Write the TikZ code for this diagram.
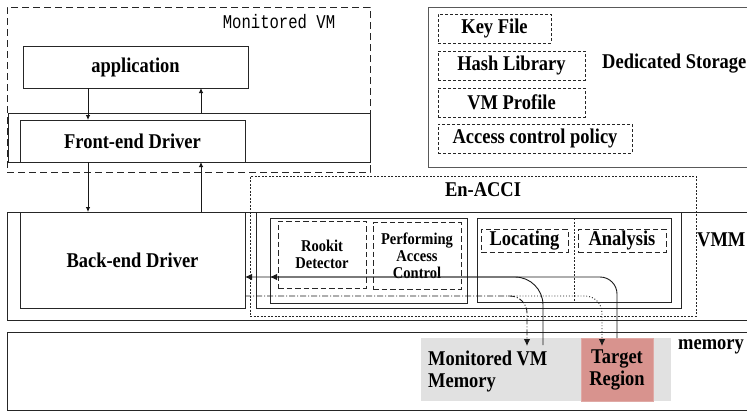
\documentclass[tikz,border=0pt]{standalone}
\usepackage{fontspec}
\setmainfont[FakeStretch=0.88]{Liberation Serif}
\newfontfamily\vmmono[FakeStretch=0.8]{Liberation Mono}
\usetikzlibrary{arrows.meta}
\newcommand{\bigtxt}{\fontsize{21}{22}\selectfont\bfseries}
\newcommand{\smalltxt}{\fontsize{16.5}{17}\selectfont\bfseries}
\definecolor{memgray}{HTML}{E1E1E1}
\definecolor{tgtred}{HTML}{D8938E}
\tikzset{
box/.style={draw=black!85, line width=0.8pt, inner sep=0pt, outer sep=0pt, font=\bigtxt, align=center},
dbox/.style={box, dash pattern=on 3pt off 2pt, line width=0.7pt},
mdbox/.style={box, dash pattern=on 5.5pt off 3pt, line width=0.8pt},
ldbox/.style={box, dash pattern=on 7pt off 4pt, line width=0.9pt},
dotbox/.style={box, dash pattern=on 2pt off 1.5pt, line width=0.6pt},
txt/.style={inner sep=0pt, font=\bigtxt, align=center},
arr/.style={-{Latex[length=5pt,width=4.5pt]}, line width=0.8pt, black!90},
bigarr/.style={-{Latex[length=7pt,width=6.5pt]}, line width=0.9pt, black!90}
}

\begin{document}
\begin{tikzpicture}[x=1pt, y=-1pt]
\useasboundingbox (0,0) rectangle (747,413);
% monitored VM
\node[ldbox, minimum width=363pt, minimum height=165pt] (monvm) at (188.5,89.5) {};
\node[txt, font=\vmmono\fontsize{19.5}{20}\selectfont] (monvmlbl) at (279,22) {Monitored VM};
\node[box, minimum width=225pt, minimum height=42pt] (app) at (135.5,67) {application};
\node[box, minimum width=362pt, minimum height=49pt] (feout) at (189,137.5) {};
\node[box, minimum width=225pt, minimum height=42pt] (fe) at (132.5,141) {Front-end Driver};
% dedicated storage
\node[box, draw=black!65, minimum width=332pt, minimum height=160pt] (ds) at (594,87) {};
\node[dbox, minimum width=113pt, minimum height=29pt] (key) at (494.5,28.5) {Key File};
\node[dbox, minimum width=147pt, minimum height=29pt] (hash) at (511.5,65.5) {Hash Library};
\node[dbox, minimum width=147pt, minimum height=29pt] (prof) at (511.5,102.5) {VM Profile};
\node[dbox, minimum width=194pt, minimum height=29pt] (acp) at (535,138.5) {Access control policy};
\node[txt, anchor=west] (dslbl) at (602,64) {Dedicated Storage};
% VMM
\node[box, minimum width=753pt, minimum height=108pt] (vmm) at (383.5,266) {};
\node[txt, anchor=west] (vmmlbl) at (697,240) {VMM};
\node[box, minimum width=225pt, minimum height=96pt] (be) at (132.5,260) {Back-end Driver};
\node[dotbox, minimum width=446pt, minimum height=140pt] (acci) at (473,246) {};
\node[txt] (accilbl) at (483,190) {En-ACCI};
\node[box, minimum width=425pt, minimum height=96pt] (inner) at (468.5,260) {};
\node[box, minimum width=197pt, minimum height=85pt] (grpL) at (368.5,260.5) {};
\node[mdbox, font=\smalltxt, minimum width=88pt, minimum height=67pt] (rd) at (322,254.5) {Rookit\\Detector};
\node[mdbox, font=\smalltxt, minimum width=88pt, minimum height=67pt] (pac) at (417,256) {Performing\\Access\\Control};
\node[box, minimum width=194pt, minimum height=84pt] (grpR) at (574,260) {};
\draw[dotbox] (grpR.north) -- (grpR.south);
\node[mdbox, minimum width=87pt, minimum height=23pt] (loc) at (524.5,240.5) {Locating};
\node[mdbox, minimum width=88pt, minimum height=23pt] (ana) at (622,240.5) {Analysis};
% memory
\node[box, minimum width=753pt, minimum height=78pt] (mem) at (383.5,371) {};
\node[txt, anchor=west] (memlbl) at (678,347) {memory};
\node[fill=memgray, inner sep=0pt, minimum width=250pt, minimum height=63pt] (vmmem) at (546,369.5) {};
\node[box, draw=tgtred!80!white, fill=tgtred, minimum width=72pt, minimum height=63pt] (tgt) at (617,369.5) {Target\\Region};
\node[txt, align=left, anchor=west] (vmmemlbl) at (428,371) {Monitored VM\\Memory};
% vertical links
\coordinate (dn) at (88,0);
\coordinate (up) at (201,0);
\draw[arr] (app.south -| dn) -- (fe.north -| dn);
\draw[arr] (feout.north -| up) -- (app.south -| up);
\draw[arr] (fe.south -| dn) -- (be.north -| dn);
\draw[arr] (be.north -| up) -- (fe.south -| up);
% memory links
\coordinate (rowA) at (0,277);
\coordinate (rowB) at (0,296);
\coordinate (mvsrc) at (543,345);
\coordinate (mvtip) at (527,346);
\coordinate (tgttip) at (602,346);
\coordinate (split) at (508,296);
\draw[bigarr, rounded corners=17pt] (tgt.north) |- (be.east |- rowA);
\draw[bigarr, rounded corners=28pt] (mvsrc) |- (grpL.west |- rowA);
\draw[bigarr, dash pattern=on 6pt off 2pt on 1pt off 2pt, rounded corners=17pt] (be.east |- rowB) -| (mvtip);
\draw[bigarr, dotted, rounded corners=17pt] (split) -| (tgttip);
\end{tikzpicture}
\end{document}
